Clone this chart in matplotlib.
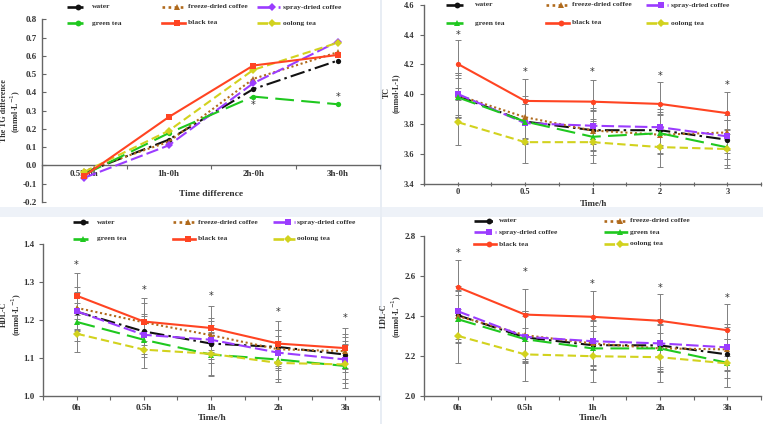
import matplotlib
matplotlib.use("Agg")
import matplotlib.pyplot as plt
from matplotlib.lines import Line2D
from matplotlib.patches import Rectangle

# ---------------- data ----------------
series_names = ["water", "freeze-dried coffee", "spray-dried coffee",
                "green tea", "black tea", "oolong tea"]

# TG difference panel
tg_categories = ["0.5h-0h", "1h-0h", "2h-0h", "3h-0h"]
tg_water = [-0.04, 0.141, 0.418, 0.574]
tg_freeze = [-0.03, 0.13, 0.474, 0.62]
tg_spray = [-0.067, 0.11, 0.45, 0.678]
tg_green = [-0.05, 0.177, 0.377, 0.335]
tg_black = [-0.058, 0.265, 0.547, 0.605]
tg_oolong = [-0.035, 0.19, 0.523, 0.672]
tg_star = [None, None, 0.332, 0.372]

# TC panel
tc_categories = ["0", "0.5", "1", "2", "3"]
tc_water = [3.99, 3.818, 3.76, 3.76, 3.696]
tc_freeze = [3.994, 3.847, 3.758, 3.73, 3.745]
tc_spray = [4.003, 3.807, 3.79, 3.78, 3.719]
tc_green = [3.98, 3.818, 3.716, 3.74, 3.645]
tc_black = [4.204, 3.956, 3.951, 3.936, 3.874]
tc_oolong = [3.814, 3.68, 3.68, 3.647, 3.634]
tc_water_sd = [0.14, 0.15, 0.13, 0.12, 0.13]
tc_freeze_sd = [0.15, 0.14, 0.14, 0.13, 0.12]
tc_spray_sd = [0.14, 0.13, 0.12, 0.12, 0.11]
tc_green_sd = [0.13, 0.12, 0.12, 0.13, 0.12]
tc_black_sd = [0.16, 0.145, 0.145, 0.15, 0.14]
tc_oolong_sd = [0.15, 0.14, 0.14, 0.135, 0.13]
tc_star = [4.40, 4.15, 4.15, 4.12, 4.06]

# HDL-C panel
hdl_categories = ["0h", "0.5h", "1h", "2h", "3h"]
hdl_water = [1.222, 1.170, 1.138, 1.129, 1.109]
hdl_freeze = [1.232, 1.194, 1.160, 1.123, 1.118]
hdl_spray = [1.223, 1.161, 1.148, 1.114, 1.096]
hdl_green = [1.195, 1.148, 1.109, 1.096, 1.079]
hdl_black = [1.264, 1.196, 1.179, 1.138, 1.126]
hdl_oolong = [1.164, 1.122, 1.111, 1.087, 1.083]
hdl_water_sd = [0.05, 0.045, 0.05, 0.045, 0.045]
hdl_freeze_sd = [0.055, 0.05, 0.045, 0.05, 0.045]
hdl_spray_sd = [0.05, 0.05, 0.05, 0.045, 0.05]
hdl_green_sd = [0.05, 0.045, 0.057, 0.05, 0.057]
hdl_black_sd = [0.061, 0.062, 0.058, 0.059, 0.054]
hdl_oolong_sd = [0.048, 0.048, 0.057, 0.05, 0.05]
hdl_star = [1.346, 1.280, 1.262, 1.221, 1.205]

# LDL-C panel
ldl_categories = ["0h", "0.5h", "1h", "2h", "3h"]
ldl_water = [2.404, 2.293, 2.254, 2.253, 2.208]
ldl_freeze = [2.400, 2.304, 2.263, 2.238, 2.233]
ldl_spray = [2.424, 2.296, 2.274, 2.263, 2.243]
ldl_green = [2.384, 2.284, 2.238, 2.238, 2.166]
ldl_black = [2.544, 2.407, 2.396, 2.376, 2.329]
ldl_oolong = [2.301, 2.208, 2.199, 2.194, 2.163]
ldl_water_sd = [0.12, 0.12, 0.12, 0.12, 0.12]
ldl_freeze_sd = [0.13, 0.12, 0.115, 0.12, 0.11]
ldl_spray_sd = [0.125, 0.13, 0.12, 0.12, 0.115]
ldl_green_sd = [0.12, 0.115, 0.11, 0.115, 0.12]
ldl_black_sd = [0.138, 0.13, 0.131, 0.133, 0.13]
ldl_oolong_sd = [0.136, 0.133, 0.127, 0.122, 0.12]
ldl_star = [2.713, 2.620, 2.562, 2.540, 2.492]

# ---------------- styling ----------------
W, H = 763, 424
FONT = "Liberation Serif"
TXT = "#333333"
AXC = "#666666"
ERR = "#808080"

colors = ["#111111", "#b06a1c", "#9b3cff", "#1fc81f", "#ff4422", "#d2d21e"]
dashes = [(0, (7, 2, 1.2, 2)), (0, (1, 1.3)), (0, (6, 2)),
          (0, (9, 3.5)), "-", (0, (4, 2))]

fig = plt.figure(figsize=(W / 100, H / 100), dpi=100)
fig.patch.set_facecolor("white")

# separators
fig.add_artist(Rectangle((0, 1 - 217 / H), 1, 10 / H, transform=fig.transFigure,
                         facecolor="#eef2f8", edgecolor="none", zorder=0))
fig.add_artist(Rectangle((380 / W, 0), 2 / W, 1, transform=fig.transFigure,
                         facecolor="#e8edf4", edgecolor="none", zorder=0))


def rect(x0, yt, x1, yb):
    return [x0 / W, 1 - yb / H, (x1 - x0) / W, (yb - yt) / H]


def ftext(x, y, s, **kw):
    base = dict(fontfamily=FONT, fontweight="bold", color=TXT)
    base.update(kw)
    fig.text(x / W, 1 - y / H, s, **base)


def style_axes(ax, cats, ylim, yticks, fmt, zero_axis=False, ydir="out",
               xdir="out", xpad=3, tsize=6.5, ypad=4):
    n = len(cats)
    ax.set_xlim(-0.5, n - 0.5)
    ax.set_ylim(*ylim)
    ax.set_facecolor("none")
    for s in ["top", "right"]:
        ax.spines[s].set_visible(False)
    for s in ["left", "bottom"]:
        ax.spines[s].set_color(AXC)
        ax.spines[s].set_linewidth(1.0)
    if zero_axis:
        ax.spines["bottom"].set_position(("data", 0))
    ax.set_xticks(range(n))
    ax.set_xticklabels(cats)
    ax.set_xticks([i - 0.5 for i in range(n + 1)], minor=True)
    ax.tick_params(axis="x", which="both", direction=xdir, length=3,
                   color=AXC, width=0.8)
    ax.tick_params(axis="x", which="major", length=0 if zero_axis else 3,
                   pad=xpad)
    ax.set_yticks(yticks)
    ax.set_yticklabels([fmt.format(v) for v in yticks])
    ax.tick_params(axis="y", direction=ydir, length=3, color=AXC, width=0.8,
                   pad=ypad)
    for lab in ax.get_xticklabels() + ax.get_yticklabels():
        lab.set_fontfamily(FONT)
        lab.set_fontweight("bold")
        lab.set_fontsize(tsize)
        lab.set_color(TXT)


def plot_series(ax, values, sds, markers, stars):
    x = list(range(len(values[0])))
    for i, v in enumerate(values):
        if sds is not None:
            ax.errorbar(x, v, yerr=sds[i], fmt="none", ecolor=ERR,
                        elinewidth=0.7, capsize=2.2, capthick=0.7, zorder=2)
    for i, v in enumerate(values):
        ax.plot(x, v, color=colors[i], linestyle=dashes[i], linewidth=1.5,
                marker=markers[i], markersize=3.8, markeredgewidth=0,
                zorder=3 + (1 if i == 4 else 0))
    for xi, s in zip(x, stars):
        if s is not None:
            ax.text(xi, s, "*", ha="center", va="center", fontsize=7,
                    color=TXT, fontfamily="DejaVu Sans", zorder=5)


def legend_entry(x0, x1, y, idx, marker, label, xt):
    yy = 1 - y / H
    fig.add_artist(Line2D([x0 / W, x1 / W], [yy, yy], transform=fig.transFigure,
                          color=colors[idx], linestyle=dashes[idx],
                          linewidth=1.9))
    fig.add_artist(Line2D([(x0 + 2 * x1) / 3 / W], [yy],
                          transform=fig.transFigure,
                          color=colors[idx], marker=marker, markersize=4.2,
                          markeredgewidth=0, linestyle="none"))
    ftext(xt, y, label, ha="left", va="center", fontsize=5.4)


def ylabel2(xc, yc, l1, l2, size=5.8, ls=1.15):
    ftext(xc, yc, l1 + "\n" + l2, rotation=90, ha="center", va="center",
          multialignment="center", fontsize=size, linespacing=ls)


# ---------- Panel A: TG difference ----------
axA = fig.add_axes(rect(42, 19.3, 380, 202))
mA = ["o", "^", "D", "o", "s", "D"]
plot_series(axA, [tg_water, tg_freeze, tg_spray, tg_green, tg_black, tg_oolong],
            None, mA, tg_star)
style_axes(axA, tg_categories, (-0.2, 0.8),
           [-0.2, -0.1, 0.0, 0.1, 0.2, 0.3, 0.4, 0.5, 0.6, 0.7, 0.8], "{:.1f}",
           zero_axis=True, ydir="in")
ftext(211, 194, "Time difference", ha="center", va="center", fontsize=6.8)
ylabel2(11.5, 111, "The TG difference", "(mmol·L$^{-1}$)")
colsA = [(67, 83, 92), (162, 185, 188), (257, 280, 283)]
for k in range(6):
    r, c = divmod(k, 3)
    x0, x1, xt = colsA[c]
    legend_entry(x0, x1, 7 + r * 16, k, mA[k], series_names[k], xt)

# ---------- Panel B: TC ----------
axB = fig.add_axes(rect(424, 4.7, 761, 184))
mB = ["o", "^", "s", "^", "o", "D"]
plot_series(axB, [tc_water, tc_freeze, tc_spray, tc_green, tc_black, tc_oolong],
            [tc_water_sd, tc_freeze_sd, tc_spray_sd, tc_green_sd, tc_black_sd,
             tc_oolong_sd], mB, tc_star)
style_axes(axB, tc_categories, (3.4, 4.6), [3.4, 3.6, 3.8, 4.0, 4.2, 4.4, 4.6],
           "{:.1f}", xdir="inout", xpad=1.5, tsize=6.0)
ftext(593, 204, "Time/h", ha="center", va="center", fontsize=6.5)
ylabel2(391.5, 93, "TC", "(mmol·L-1)")
colsB = [(446, 463, 475), (546, 569, 572), (646, 668, 671)]
for k in range(6):
    r, c = divmod(k, 3)
    x0, x1, xt = colsB[c]
    legend_entry(x0, x1, 5 + r * 18, k, mB[k], series_names[k], xt)

# ---------- Panel C: HDL-C ----------
axC = fig.add_axes(rect(43, 244, 379, 396))
mC = ["o", "^", "s", "^", "s", "D"]
plot_series(axC, [hdl_water, hdl_freeze, hdl_spray, hdl_green, hdl_black,
                  hdl_oolong],
            [hdl_water_sd, hdl_freeze_sd, hdl_spray_sd, hdl_green_sd,
             hdl_black_sd, hdl_oolong_sd], mC, hdl_star)
style_axes(axC, hdl_categories, (1.0, 1.4), [1.0, 1.1, 1.2, 1.3, 1.4], "{:.1f}",
           ypad=3)
ftext(212, 418, "Time/h", ha="center", va="center", fontsize=6.8)
ylabel2(12, 314, "HDL-C", "(mmol·L$^{-1}$)")
colsC = [(73, 88, 97), (173, 195, 198), (273, 295, 297)]
for k in range(6):
    r, c = divmod(k, 3)
    x0, x1, xt = colsC[c]
    legend_entry(x0, x1, 222 + r * 17, k, mC[k], series_names[k], xt)

# ---------- Panel D: LDL-C ----------
axD = fig.add_axes(rect(424, 236, 761, 396))
mD = ["o", "^", "s", "^", "o", "D"]
plot_series(axD, [ldl_water, ldl_freeze, ldl_spray, ldl_green, ldl_black,
                  ldl_oolong],
            [ldl_water_sd, ldl_freeze_sd, ldl_spray_sd, ldl_green_sd,
             ldl_black_sd, ldl_oolong_sd], mD, ldl_star)
style_axes(axD, ldl_categories, (2.0, 2.8), [2.0, 2.2, 2.4, 2.6, 2.8], "{:.1f}",
           ypad=3)
ftext(593, 418, "Time/h", ha="center", va="center", fontsize=6.8)
ylabel2(392, 316, "LDL-C", "(mmol·L$^{-1}$)")
colsD = [(474, 496, 499), (604, 628, 630)]
for k in range(6):
    r, c = divmod(k, 2)
    x0, x1, xt = colsD[c]
    legend_entry(x0, x1, 221 + r * 11.5, k, mD[k], series_names[k], xt)

fig.savefig("out.png", dpi=100, facecolor="white")
